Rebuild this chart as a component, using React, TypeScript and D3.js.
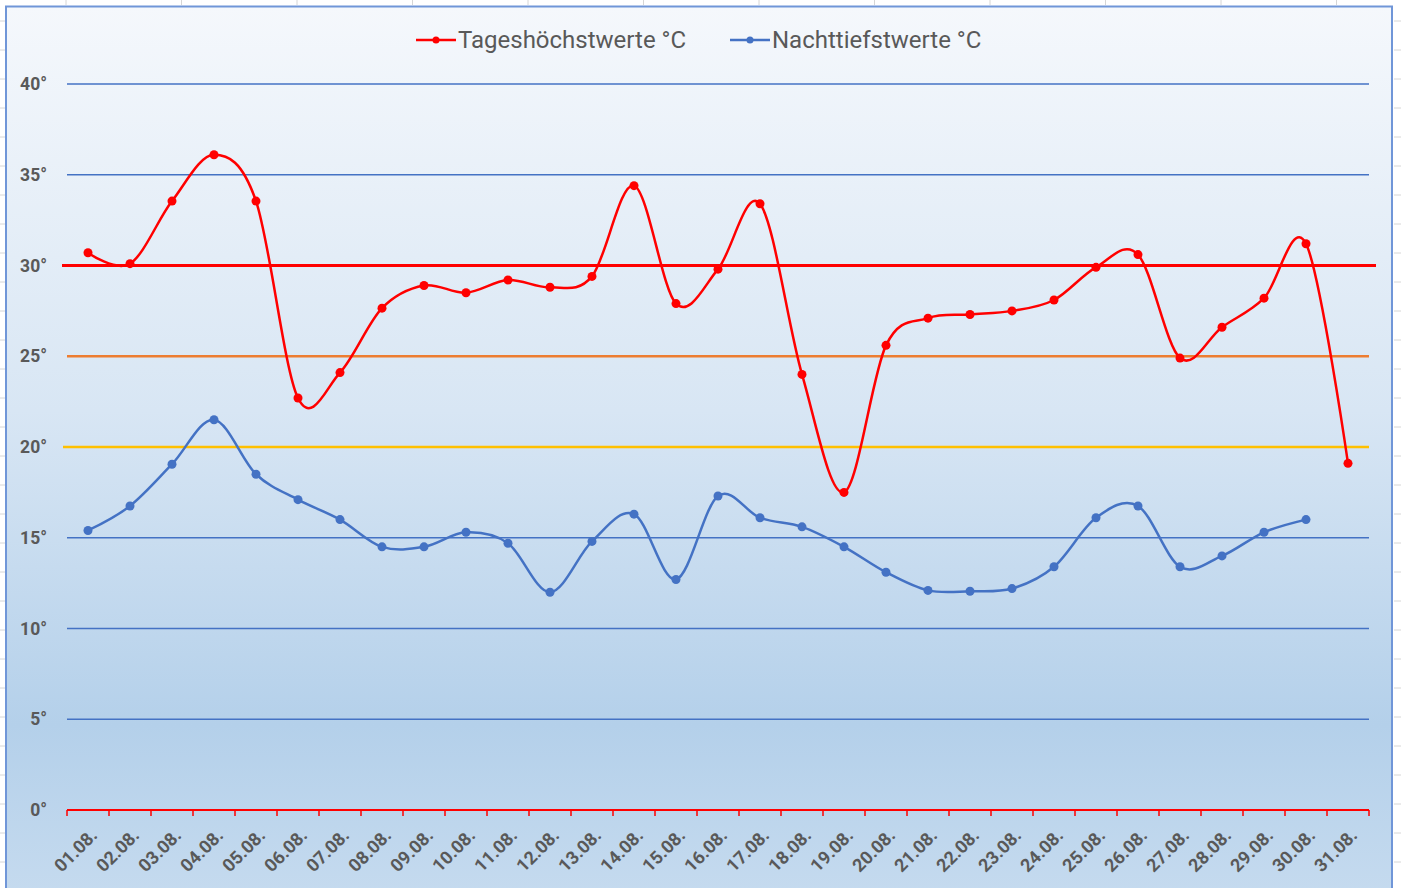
import React from "react";
import * as d3 from "d3";

const days: string[] = [
  "01.08.", "02.08.", "03.08.", "04.08.", "05.08.", "06.08.", "07.08.", "08.08.", "09.08.", "10.08.",
  "11.08.", "12.08.", "13.08.", "14.08.", "15.08.", "16.08.", "17.08.", "18.08.", "19.08.", "20.08.",
  "21.08.", "22.08.", "23.08.", "24.08.", "25.08.", "26.08.", "27.08.", "28.08.", "29.08.", "30.08.", "31.08.",
];

const highs: (number | null)[] = [
  30.7, 30.1, 33.55, 36.1, 33.55, 22.7, 24.1, 27.65, 28.9, 28.5,
  29.2, 28.8, 29.4, 34.4, 27.9, 29.8, 33.4, 24.0, 17.5, 25.6,
  27.1, 27.3, 27.5, 28.1, 29.9, 30.6, 24.9, 26.6, 28.2, 31.2, 19.1,
];

const lows: (number | null)[] = [
  15.4, 16.75, 19.05, 21.5, 18.5, 17.1, 16.0, 14.5, 14.5, 15.3,
  14.7, 12.0, 14.8, 16.3, 12.7, 17.3, 16.1, 15.6, 14.5, 13.1,
  12.1, 12.05, 12.2, 13.4, 16.1, 16.75, 13.4, 14.0, 15.3, 16.0, null,
];

const yTicks: number[] = [0, 5, 10, 15, 20, 25, 30, 35, 40];
const seriesNames: string[] = ["Tageshöchstwerte °C", "Nachttiefstwerte °C"];
const seriesColors: string[] = ["#ff0000", "#4472c4"];

const W = 1404;
const H = 888;
const plotLeft = 67;
const plotRight = 1369;
const plotTop = 84;
const plotBottom = 810;

export default function App() {
  const x = d3.scaleBand<string>().domain(days).range([plotLeft, plotRight]).padding(0);
  const y = d3.scaleLinear().domain([0, 40]).range([plotBottom, plotTop]);
  const cx = (d: string) => (x(d) as number) + x.bandwidth() / 2;

  const line = d3
    .line<[string, number | null]>()
    .defined((d) => d[1] != null)
    .x((d) => cx(d[0]))
    .y((d) => y(d[1] as number))
    .curve(d3.curveCardinal.tension(0));

  const series = [highs, lows];
  const labelColor = "#595959";
  const font = "Roboto, 'Open Sans', sans-serif";

  const leftRuler = d3.range(21, H, 29);
  const topRuler = d3.range(66, W, 115.5);

  return (
    <svg width={W} height={H} style={{ position: "absolute", left: 0, top: 0, display: "block" }}>
      <defs>
        <linearGradient id="bg" x1="0" y1="0" x2="0" y2="1">
          <stop offset="0" stopColor="#f5f8fc" />
          <stop offset="0.45" stopColor="#d8e6f4" />
          <stop offset="0.8" stopColor="#b4d0ea" />
          <stop offset="1" stopColor="#c6dbef" />
        </linearGradient>
      </defs>
      <rect x={0} y={0} width={W} height={H} fill="#ffffff" />
      {leftRuler.map((v) => (
        <g key={"lr" + v}>
          <line x1={0} x2={5} y1={v} y2={v} stroke="#d6d6d6" strokeWidth={1} />
          <line x1={1394} x2={1401} y1={v} y2={v} stroke="#d6d6d6" strokeWidth={1} />
        </g>
      ))}
      {topRuler.map((v) => (
        <line key={"tr" + v} x1={v} x2={v} y1={0} y2={5} stroke="#d6d6d6" strokeWidth={1} />
      ))}
      <rect x={6} y={6.5} width={1386} height={H + 10} fill="url(#bg)" stroke="#7096d8" strokeWidth={2} />

      {yTicks.filter((t) => t !== 0 && t !== 20 && t !== 25 && t !== 30).map((t) => (
        <line key={"g" + t} x1={plotLeft} x2={plotRight} y1={y(t)} y2={y(t)} stroke="#4472c4" strokeWidth={1.5} />
      ))}
      <line x1={63} x2={plotRight} y1={y(20)} y2={y(20)} stroke="#ffc000" strokeWidth={2.5} />
      <line x1={plotLeft} x2={plotRight} y1={y(25)} y2={y(25)} stroke="#ed7d31" strokeWidth={2.5} />
      <line x1={62} x2={1376} y1={y(30)} y2={y(30)} stroke="#ff0000" strokeWidth={3} />

      {yTicks.map((t) => (
        <text
          key={"yl" + t}
          x={47}
          y={y(t)}
          dy="0.35em"
          textAnchor="end"
          fontFamily={font}
          fontWeight="bold"
          fontSize={17.5}
          fill={labelColor}
        >
          {t + "°"}
        </text>
      ))}

      <line x1={plotLeft} x2={plotRight} y1={plotBottom} y2={plotBottom} stroke="#ff0000" strokeWidth={2} />
      {d3.range(days.length + 1).map((i) => {
        const xx = plotLeft + i * x.bandwidth();
        return <line key={"xt" + i} x1={xx} x2={xx} y1={plotBottom} y2={plotBottom + 6} stroke="#ff0000" strokeWidth={1.5} />;
      })}
      {days.map((d) => (
        <text
          key={"xl" + d}
          transform={`translate(${cx(d) + 6},${plotBottom + 22}) rotate(-45)`}
          textAnchor="end"
          dy="0.35em"
          fontFamily={font}
          fontWeight="bold"
          fontSize={18}
          fill={labelColor}
        >
          {d}
        </text>
      ))}

      {series.map((s, si) => {
        const pts: [string, number | null][] = days.map((d, i) => [d, s[i]]);
        return (
          <g key={"s" + si}>
            <path d={line(pts) || ""} fill="none" stroke={seriesColors[si]} strokeWidth={2.5} />
            {pts
              .filter((p) => p[1] != null)
              .map((p) => (
                <circle key={p[0]} cx={cx(p[0])} cy={y(p[1] as number)} r={4.5} fill={seriesColors[si]} />
              ))}
          </g>
        );
      })}

      {seriesNames.map((n, i) => {
        const lx = i === 0 ? 416 : 730;
        const ly = 40;
        return (
          <g key={"lg" + i}>
            <line x1={lx} x2={lx + 40} y1={ly} y2={ly} stroke={seriesColors[i]} strokeWidth={2.5} />
            <circle cx={lx + 20} cy={ly} r={3.5} fill={seriesColors[i]} />
            <text x={lx + 42} y={ly} dy="0.35em" fontFamily={font} fontSize={24} fill={labelColor}>
              {n}
            </text>
          </g>
        );
      })}
    </svg>
  );
}
